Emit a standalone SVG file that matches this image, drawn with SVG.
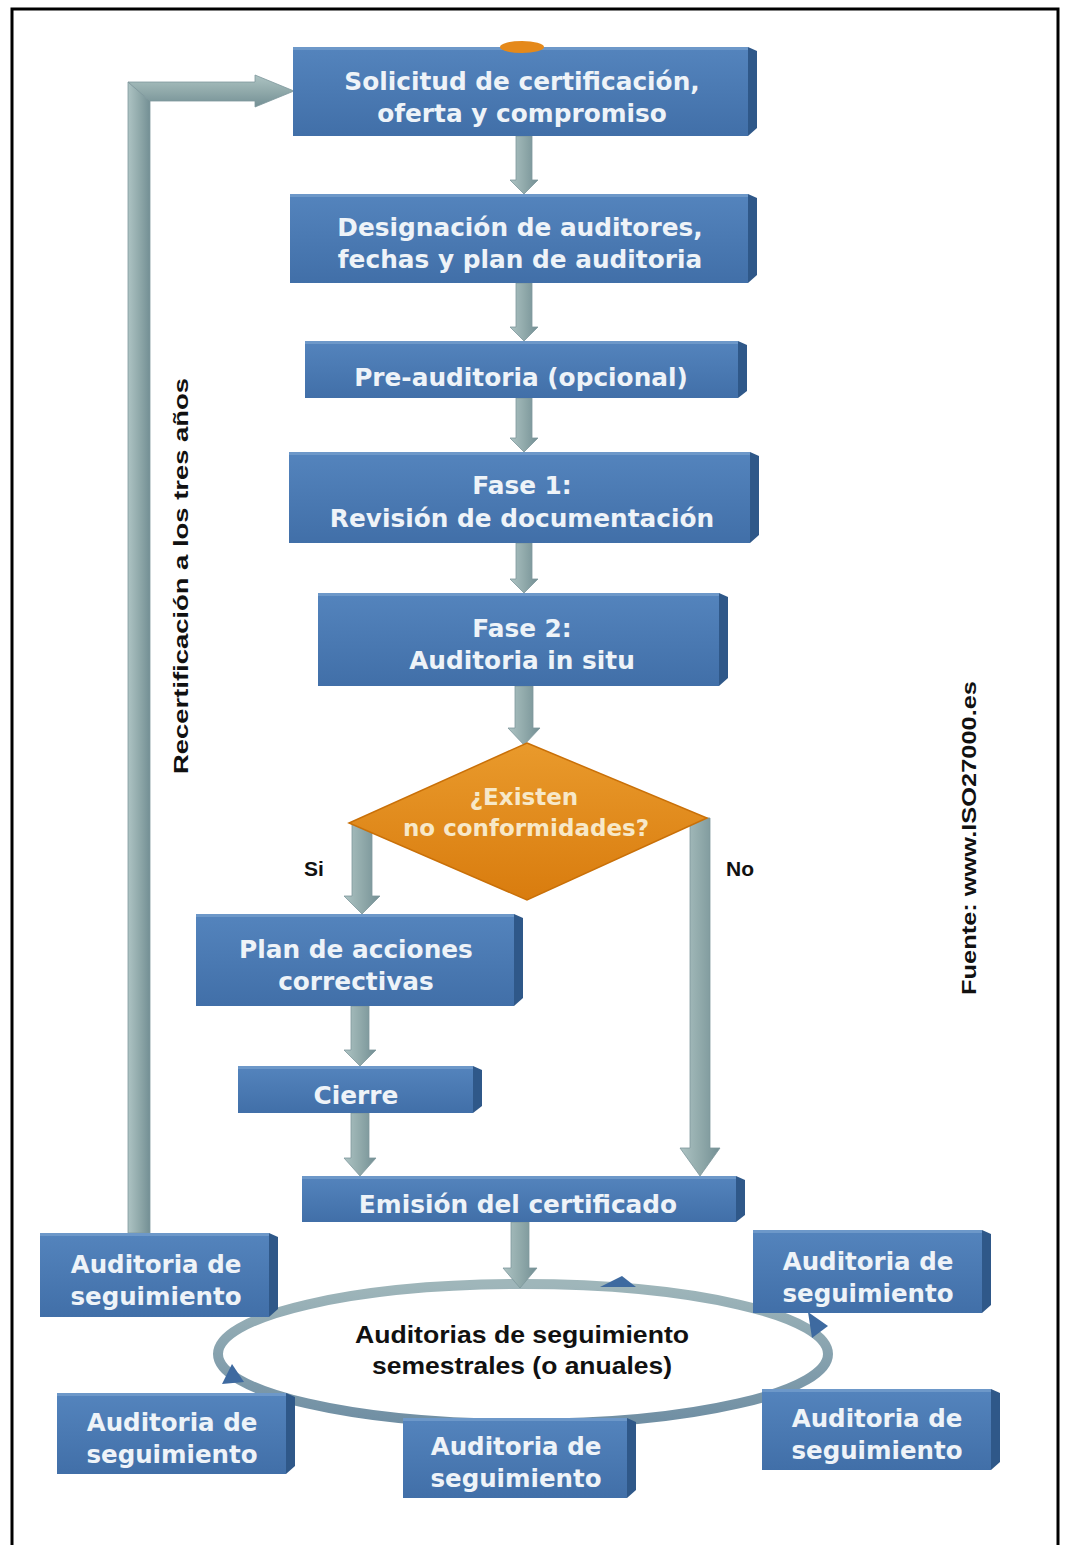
<svg xmlns="http://www.w3.org/2000/svg" width="1067" height="1545" viewBox="0 0 1067 1545">
  <defs>
    <linearGradient id="face" x1="0" y1="0" x2="0" y2="1">
      <stop offset="0" stop-color="#5484bd"/>
      <stop offset="1" stop-color="#416fa8"/>
    </linearGradient>
    <linearGradient id="shaftV" x1="0" y1="0" x2="1" y2="0">
      <stop offset="0" stop-color="#adc3c3"/>
      <stop offset="0.5" stop-color="#91aaab"/>
      <stop offset="1" stop-color="#738f94"/>
    </linearGradient>
    <linearGradient id="shaftH" x1="0" y1="0" x2="0" y2="1">
      <stop offset="0" stop-color="#adc3c3"/>
      <stop offset="0.5" stop-color="#91aaab"/>
      <stop offset="1" stop-color="#738f94"/>
    </linearGradient>
    <linearGradient id="diamondFill" x1="0" y1="0" x2="0" y2="1">
      <stop offset="0" stop-color="#e99a2c"/>
      <stop offset="1" stop-color="#d97c0e"/>
    </linearGradient>
    <linearGradient id="ringStroke" x1="0" y1="0" x2="0" y2="1">
      <stop offset="0" stop-color="#9fb6ba"/>
      <stop offset="1" stop-color="#6f8ea3"/>
    </linearGradient>
    <style>
      .face { fill: url(#face); }
      .bevel { fill: #2f5889; }
      .hl { fill: #6d98c9; }
      .bt { font-family: "DejaVu Sans", "Liberation Sans", sans-serif; font-weight: bold; font-size: 24.8px; fill: #eef3f8; text-anchor: middle; }
      .bts { font-family: "DejaVu Sans", "Liberation Sans", sans-serif; font-weight: bold; font-size: 24.5px; fill: #eef3f8; text-anchor: middle; }
      .dt { font-family: "DejaVu Sans", "Liberation Sans", sans-serif; font-weight: bold; font-size: 23px; fill: #f7e8c8; text-anchor: middle; }
      .lbl { font-family: "Liberation Sans", Arial, sans-serif; font-weight: bold; font-size: 21px; fill: #111; }
      .et { font-family: "Liberation Sans", Arial, sans-serif; font-weight: bold; font-size: 24px; fill: #111; text-anchor: middle; }
      .arr { fill: url(#shaftV); stroke: #7e979c; stroke-width: 0.8; }
      .arrh { fill: url(#shaftH); stroke: #7e979c; stroke-width: 0.8; }
    </style>
  </defs>

  <rect x="0" y="0" width="1067" height="1545" fill="#ffffff"/>

  <!-- outer frame (open at the bottom) -->
  <path d="M12,1545 V9 H1058 V1545" fill="none" stroke="#000" stroke-width="3"/>

  <!-- follow-up audit cycle -->
  <g id="ciclo">
    <ellipse cx="523" cy="1354" rx="305" ry="70" fill="#ffffff" stroke="url(#ringStroke)" stroke-width="10"/>
    <polygon points="600,1287 622,1276 636,1287" fill="#3e6aa0"/>
    <polygon points="808,1312 828,1326 812,1338" fill="#3e6aa0"/>
    <polygon points="232,1364 222,1384 244,1382" fill="#3e6aa0"/>
    <text class="et" x="522" y="1343" textLength="334" lengthAdjust="spacingAndGlyphs">Auditorias de seguimiento</text>
    <text class="et" x="522" y="1374" textLength="300" lengthAdjust="spacingAndGlyphs">semestrales (o anuales)</text>
  </g>

  <!-- connectors -->
  <g id="conectores">
    <!-- recertification loop -->
    <polygon class="arr" points="128,1233 128,82 150,101 150,1233"/>
    <polygon class="arrh" points="128,82 255,82 255,75 294,91 255,107 255,101 150,101"/>
    <polygon class="arr" points="516,136 532,136 532,180 538,180 524,194 510,180 516,180"/>
    <polygon class="arr" points="516,283 532,283 532,327 538,327 524,341 510,327 516,327"/>
    <polygon class="arr" points="516,398 532,398 532,438 538,438 524,452 510,438 516,438"/>
    <polygon class="arr" points="516,543 532,543 532,579 538,579 524,593 510,579 516,579"/>
    <polygon class="arr" points="515,686 533,686 533,728 540,728 524,745 508,728 515,728"/>
    <!-- Si branch -->
    <polygon class="arr" points="352,822 372,822 372,896 380,896 362,914 344,896 352,896"/>
    <!-- No branch -->
    <polygon class="arr" points="690,818 710,818 710,1148 720,1148 700,1176 680,1148 690,1148"/>
    <polygon class="arr" points="351,1006 369,1006 369,1050 376,1050 360,1066 344,1050 351,1050"/>
    <polygon class="arr" points="351,1113 369,1113 369,1158 376,1158 360,1176 344,1158 351,1158"/>
    <polygon class="arr" points="511,1222 529,1222 529,1268 537,1268 520,1288 503,1268 511,1268"/>
  </g>

  <g id="solicitud">
    <rect class="face" x="293" y="47" width="455" height="89"/>
    <polygon class="bevel" points="748,47 757,51 757,128 748,136"/>
    <rect class="hl" x="293" y="47" width="455" height="3"/>
    <ellipse cx="522" cy="47" rx="22" ry="6" fill="#e5891a"/>
    <text class="bt" x="522" y="90">Solicitud de certificación,</text>
    <text class="bt" x="522" y="122">oferta y compromiso</text>
  </g>

  <g id="designacion">
    <rect class="face" x="290" y="194" width="458" height="89"/>
    <polygon class="bevel" points="748,194 757,198 757,275 748,283"/>
    <rect class="hl" x="290" y="194" width="458" height="3"/>
    <text class="bt" x="520" y="236">Designación de auditores,</text>
    <text class="bt" x="520" y="268">fechas y plan de auditoria</text>
  </g>

  <g id="preauditoria">
    <rect class="face" x="305" y="341" width="433" height="57"/>
    <polygon class="bevel" points="738,341 747,345 747,391 738,398"/>
    <rect class="hl" x="305" y="341" width="433" height="3"/>
    <text class="bt" x="521" y="386">Pre-auditoria (opcional)</text>
  </g>

  <g id="fase1">
    <rect class="face" x="289" y="452" width="461" height="91"/>
    <polygon class="bevel" points="750,452 759,456 759,535 750,543"/>
    <rect class="hl" x="289" y="452" width="461" height="3"/>
    <text class="bt" x="522" y="494">Fase 1:</text>
    <text class="bt" x="522" y="527">Revisión de documentación</text>
  </g>

  <g id="fase2">
    <rect class="face" x="318" y="593" width="401" height="93"/>
    <polygon class="bevel" points="719,593 728,597 728,678 719,686"/>
    <rect class="hl" x="318" y="593" width="401" height="3"/>
    <text class="bt" x="522" y="637">Fase 2:</text>
    <text class="bt" x="522" y="669">Auditoria in situ</text>
  </g>

  <g id="decision">
    <polygon points="527,743 707,818 527,900 349,823" fill="url(#diamondFill)" stroke="#c97008" stroke-width="1.5"/>
    <text class="dt" x="524" y="805">¿Existen</text>
    <text class="dt" x="526" y="836">no conformidades?</text>
  </g>

  <text class="lbl" x="304" y="876">Si</text>
  <text class="lbl" x="726" y="876">No</text>

  <g id="plan">
    <rect class="face" x="196" y="914" width="318" height="92"/>
    <polygon class="bevel" points="514,914 523,918 523,998 514,1006"/>
    <rect class="hl" x="196" y="914" width="318" height="3"/>
    <text class="bt" x="356" y="958">Plan de acciones</text>
    <text class="bt" x="356" y="990">correctivas</text>
  </g>

  <g id="cierre">
    <rect class="face" x="238" y="1066" width="235" height="47"/>
    <polygon class="bevel" points="473,1066 482,1070 482,1106 473,1113"/>
    <rect class="hl" x="238" y="1066" width="235" height="3"/>
    <text class="bt" x="356" y="1104">Cierre</text>
  </g>

  <g id="emision">
    <rect class="face" x="302" y="1176" width="434" height="46"/>
    <polygon class="bevel" points="736,1176 745,1180 745,1215 736,1222"/>
    <rect class="hl" x="302" y="1176" width="434" height="3"/>
    <text class="bt" x="518" y="1213">Emisión del certificado</text>
  </g>

  <g id="seguimiento1">
    <rect class="face" x="40" y="1233" width="229" height="84"/>
    <polygon class="bevel" points="269,1233 278,1237 278,1309 269,1317"/>
    <rect class="hl" x="40" y="1233" width="229" height="3"/>
    <text class="bts" x="156" y="1273">Auditoria de</text>
    <text class="bts" x="156" y="1305">seguimiento</text>
  </g>

  <g id="seguimiento2">
    <rect class="face" x="753" y="1230" width="229" height="83"/>
    <polygon class="bevel" points="982,1230 991,1234 991,1305 982,1313"/>
    <rect class="hl" x="753" y="1230" width="229" height="3"/>
    <text class="bts" x="868" y="1270">Auditoria de</text>
    <text class="bts" x="868" y="1302">seguimiento</text>
  </g>

  <g id="seguimiento3">
    <rect class="face" x="57" y="1393" width="229" height="81"/>
    <polygon class="bevel" points="286,1393 295,1397 295,1466 286,1474"/>
    <rect class="hl" x="57" y="1393" width="229" height="3"/>
    <text class="bts" x="172" y="1431">Auditoria de</text>
    <text class="bts" x="172" y="1463">seguimiento</text>
  </g>

  <g id="seguimiento4">
    <rect class="face" x="403" y="1418" width="224" height="80"/>
    <polygon class="bevel" points="627,1418 636,1422 636,1490 627,1498"/>
    <rect class="hl" x="403" y="1418" width="224" height="3"/>
    <text class="bts" x="516" y="1455">Auditoria de</text>
    <text class="bts" x="516" y="1487">seguimiento</text>
  </g>

  <g id="seguimiento5">
    <rect class="face" x="762" y="1389" width="229" height="81"/>
    <polygon class="bevel" points="991,1389 1000,1393 1000,1462 991,1470"/>
    <rect class="hl" x="762" y="1389" width="229" height="3"/>
    <text class="bts" x="877" y="1427">Auditoria de</text>
    <text class="bts" x="877" y="1459">seguimiento</text>
  </g>

  <text class="lbl" transform="translate(188,576) rotate(-90)" text-anchor="middle" font-size="23" textLength="396" lengthAdjust="spacingAndGlyphs">Recertificación a los tres años</text>
  <text class="lbl" transform="translate(976,838) rotate(-90)" text-anchor="middle" font-size="21" textLength="314" lengthAdjust="spacingAndGlyphs">Fuente: www.ISO27000.es</text>
</svg>
